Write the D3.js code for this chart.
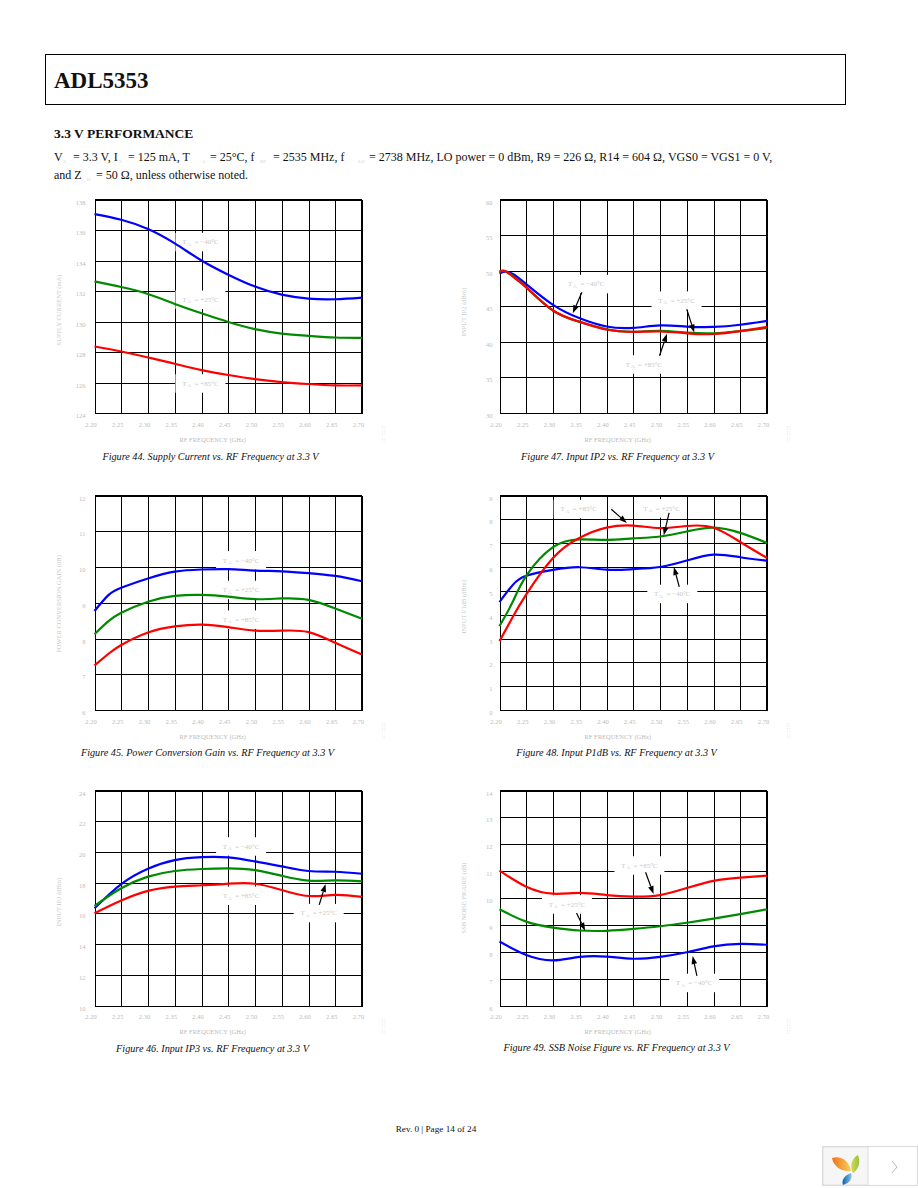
<!DOCTYPE html>
<html><head><meta charset="utf-8">
<script src="https://cdn.jsdelivr.net/npm/d3@7/dist/d3.min.js"></script>
<style>html,body{margin:0;padding:0;background:#fff}svg{display:block}text{font-family:"Liberation Serif",serif}</style>
</head><body><div id="c"></div>
<script>
// Frequency grids (GHz)
const freqs = [2.20,2.25,2.30,2.35,2.40,2.45,2.50,2.55,2.60,2.65,2.70];
const freqsStart = [2.20,2.225,2.25,2.30,2.35,2.40,2.45,2.50,2.55,2.60,2.65,2.70];
const freqsHump = [2.20,2.21,2.225,2.25,2.30,2.35,2.40,2.45,2.50,2.55,2.60,2.65,2.70];
const xTickLabels = ["2.20","2.25","2.30","2.35","2.40","2.45","2.50","2.55","2.60","2.65","2.70"];

// Figure 44 Supply current (mA)
const fig44Blue  = [137.04,136.67,136.06,135.12,134.0,133.07,132.29,131.76,131.5,131.46,131.57];
const fig44Green = [132.63,132.26,131.8,131.15,130.54,129.97,129.5,129.21,129.06,128.95,128.93];
const fig44Red   = [128.36,128.03,127.64,127.23,126.81,126.49,126.22,126.03,125.9,125.81,125.81];
// Figure 47 Input IP2 (dBm)
const fig47Blue  = [49.6,49.86,49.53,48.1,45.2,43.3,42.15,41.96,42.3,42.15,42.1,42.4,42.95];
const fig47Green = [49.86,49.95,49.25,47.66,44.4,42.8,41.75,41.42,41.55,41.3,41.2,41.5,41.95];
const fig47Red   = [49.86,49.95,49.16,47.66,44.4,42.8,41.73,41.4,41.45,41.2,41.1,41.5,42.1];
// Figure 45 Power conversion gain (dB)
const fig45Blue  = [8.77,9.2,9.42,9.68,9.87,9.93,9.94,9.9,9.88,9.83,9.75,9.6];
const fig45Green = [8.12,8.47,8.72,9.03,9.19,9.22,9.17,9.1,9.12,9.08,8.84,8.55];
const fig45Red   = [7.25,7.56,7.82,8.17,8.34,8.39,8.32,8.22,8.22,8.18,7.88,7.55];
// Figure 48 Input P1dB (dBm)
const fig48Blue  = [4.53,5.25,5.63,5.88,5.99,5.89,5.91,6.0,6.27,6.52,6.41,6.26];
const fig48Green = [3.52,4.55,5.63,6.83,7.16,7.14,7.2,7.28,7.49,7.65,7.43,7.01];
const fig48Red   = [2.89,3.91,4.85,6.38,7.23,7.65,7.74,7.63,7.72,7.65,7.05,6.38];
// Figure 46 Input IP3 (dBm)
const fig46Blue  = [16.33,17.91,18.91,19.47,19.66,19.64,19.38,19.06,18.76,18.71,18.58];
const fig46Green = [16.48,17.63,18.39,18.76,18.89,18.93,18.82,18.45,18.13,18.15,18.08];
const fig46Red   = [16.0,16.83,17.46,17.74,17.83,17.93,17.93,17.52,17.13,17.2,17.07];
// Figure 49 SSB noise figure (dB)
const fig49Blue  = [8.38,7.88,7.68,7.81,7.82,7.74,7.81,7.98,8.2,8.29,8.26];
const fig49Green = [9.58,9.12,8.9,8.79,8.78,8.85,8.95,9.08,9.23,9.4,9.58];
const fig49Red   = [11.02,10.42,10.16,10.19,10.11,10.05,10.11,10.37,10.64,10.76,10.83];

// Annotations: [label, labelFreq, labelValue, arrowFromFreq, arrowFromValue, arrowToFreq, arrowToValue]
const fig44Notes = [["−40°C",2.398,135.19],["+25°C",2.398,131.41],["+85°C",2.398,125.92]];
const fig47Notes = [["−40°C",2.362,48.08,2.354,46.96,2.337,44.02],["+25°C",2.531,45.75,2.55,44.58,2.564,41.31],["+85°C",2.470,36.78,2.499,38.04,2.513,41.12]];
const fig45Notes = [["−40°C",2.474,10.18],["+25°C",2.474,9.35],["+85°C",2.474,8.52]];
const fig48Notes = [["+85°C",2.348,8.42,2.409,8.42,2.438,7.85],["+25°C",2.503,8.45,2.517,8.27,2.507,7.33],["−40°C",2.523,4.86,2.536,5.17,2.526,6.0]];
const fig46Notes = [["−40°C",2.474,20.34],["+85°C",2.474,17.13],["+25°C",2.619,16.0,2.620,16.55,2.632,17.91]];
const fig49Notes = [["+85°C",2.4615,11.2,2.473,10.96,2.488,10.15],["+25°C",2.326,9.75,2.344,9.44,2.36,8.78],["−40°C",2.564,6.83,2.569,7.10,2.561,7.84]];

const colors = {blue:"#0000ff",green:"#008a00",red:"#ff0000"};
const charts = [
 {col:0,row:0,yMin:124,yMax:138,step:2,x:freqs,b:fig44Blue,g:fig44Green,r:fig44Red,notes:fig44Notes,yTitle:"SUPPLY CURRENT (mA)",titleY:310,cap:"Figure 44. Supply Current vs. RF Frequency at 3.3 V",capX:210.5,capY:460},
 {col:1,row:0,yMin:30,yMax:60,step:5,x:freqsHump,b:fig47Blue,g:fig47Green,r:fig47Red,notes:fig47Notes,yTitle:"INPUT IP2 (dBm)",titleY:312,cap:"Figure 47. Input IP2 vs. RF Frequency at 3.3 V",capX:617.5,capY:460},
 {col:0,row:1,yMin:6,yMax:12,step:1,x:freqsStart,b:fig45Blue,g:fig45Green,r:fig45Red,notes:fig45Notes,yTitle:"POWER CONVERSION GAIN (dB)",titleY:604,cap:"Figure 45. Power Conversion Gain vs. RF Frequency at 3.3 V",capX:207.5,capY:756},
 {col:1,row:1,yMin:0,yMax:9,step:1,x:freqsStart,b:fig48Blue,g:fig48Green,r:fig48Red,notes:fig48Notes,yTitle:"INPUT P1dB (dBm)",titleY:607,cap:"Figure 48. Input P1dB vs. RF Frequency at 3.3 V",capX:616.5,capY:756},
 {col:0,row:2,yMin:10,yMax:24,step:2,x:freqs,b:fig46Blue,g:fig46Green,r:fig46Red,notes:fig46Notes,yTitle:"INPUT IP3 (dBm)",titleY:902,cap:"Figure 46. Input IP3 vs. RF Frequency at 3.3 V",capX:212.5,capY:1052},
 {col:1,row:2,yMin:6,yMax:14,step:1,x:freqs,b:fig49Blue,g:fig49Green,r:fig49Red,notes:fig49Notes,yTitle:"SSB NOISE FIGURE (dB)",titleY:898,cap:"Figure 49. SSB Noise Figure vs. RF Frequency at 3.3 V",capX:616.5,capY:1051}
];
const colLeft=[94.5,499.5], plotW=267.5, rowTop=[199.5,495.5,790.5], rowH=[213.5,214.5,215];

const svg=d3.select("#c").append("svg").attr("width",918).attr("height",1188);
svg.append("rect").attr("width",918).attr("height",1188).attr("fill","#fff");

// Page header
svg.append("rect").attr("x",45.5).attr("y",54.5).attr("width",800).attr("height",50).attr("fill","none").attr("stroke","#000");
svg.append("text").attr("x",54).attr("y",88).attr("font-size",23).attr("font-weight","bold").attr("fill","#111").text("ADL5353");
svg.append("text").attr("x",54).attr("y",138).attr("font-size",13.5).attr("font-weight","bold").attr("fill","#111").text("3.3 V PERFORMANCE");

// Conditions line: [text, x] for main runs, [sub, x, true] for faint subscripts
function rich(y,segs){
  const t=svg.append("text").attr("y",y).attr("font-size",12).attr("fill","#111").attr("xml:space","preserve");
  segs.forEach(s=>{
    if(s[2]) t.append("tspan").attr("x",s[1]).attr("y",y+2).attr("font-size",5).attr("fill","#d4d4d4").text(s[0]);
    else t.append("tspan").attr("x",s[1]).attr("y",y).text(s[0]);
  });
}
rich(161,[["V",54],["S",63,true],["= 3.3 V, I",73],["S",119,true],["= 125 mA, T",128],["A",202,true],["= 25°C, f",210],["RF",260,true],["= 2535 MHz, f",273],["LO",358,true],["= 2738 MHz, LO power = 0 dBm, R9 = 226 Ω, R14 = 604 Ω, VGS0 = VGS1 = 0 V,",369]]);
rich(179,[["and Z",54],["O",87,true],["= 50 Ω, unless otherwise noted.",96]]);

const ink="#bcbcbc";
charts.forEach(c=>{
  const L=colLeft[c.col],T=rowTop[c.row],H=rowH[c.row];
  const x=d3.scaleLinear().domain([2.2,2.7]).range([L,L+plotW]);
  const y=d3.scaleLinear().domain([c.yMin,c.yMax]).range([T+H,T]);
  const g=svg.append("g");
  const yTicks=d3.range(c.yMin,c.yMax+0.001,c.step);
  const xTicks=xTickLabels.map(Number);
  const gx=g.append("g").attr("transform",`translate(0,${T+H})`)
    .call(d3.axisBottom(x).tickValues(xTicks).tickFormat((d,i)=>xTickLabels[i]).tickSize(-H).tickPadding(9));
  const gy=g.append("g").attr("transform",`translate(${L},0)`)
    .call(d3.axisLeft(y).tickValues(yTicks).tickFormat(d3.format("d")).tickSize(-plotW).tickPadding(c.col?7:9));
  [gx,gy].forEach(a=>{
    a.selectAll("line").attr("stroke","#000").attr("stroke-width",1).attr("shape-rendering","crispEdges");
    a.select(".domain").attr("stroke","#000").attr("stroke-width",1).attr("shape-rendering","crispEdges");
    a.selectAll("text").attr("fill",ink).attr("font-size",6.5).attr("font-family","Liberation Serif");
  });
  gx.selectAll("text").attr("dx",-4);
  gy.selectAll("text").attr("dy","0.7em");
  g.append("line").attr("x1",L).attr("x2",L+plotW).attr("y1",T).attr("y2",T).attr("stroke","#000").attr("stroke-width",1).attr("shape-rendering","crispEdges");
  g.append("line").attr("x1",L+plotW).attr("x2",L+plotW).attr("y1",T).attr("y2",T+H).attr("stroke","#000").attr("stroke-width",2).attr("shape-rendering","crispEdges");
  // label boxes cut the grid
  c.notes.forEach(n=>{
    g.append("rect").attr("x",x(n[1])-25).attr("y",y(n[2])-9.5).attr("width",50).attr("height",18.5).attr("fill","#fff");
  });
  // curves
  const line=d3.line().x(d=>x(d[0])).y(d=>y(d[1])).curve(d3.curveNatural);
  [["b","blue"],["g","green"],["r","red"]].forEach(([k,col])=>{
    g.append("path").attr("d",line(c.x.map((f,i)=>[f,c[k][i]]))).attr("fill","none")
      .attr("stroke",colors[col]).attr("stroke-width",2.2);
  });
  // labels & arrows
  c.notes.forEach(n=>{
    const t=g.append("text").attr("x",x(n[1])).attr("y",y(n[2])+2).attr("text-anchor","middle")
      .attr("font-size",7).attr("fill","#c8c8c8").attr("xml:space","preserve");
    t.append("tspan").text("T");
    t.append("tspan").attr("font-size",5).attr("dy",1.5).text(" A");
    t.append("tspan").attr("dy",-1.5).text("  = "+n[0]);
    if(n.length>3){
      const x1=x(n[3]),y1=y(n[4]),x2=x(n[5]),y2=y(n[6]);
      const a=Math.atan2(y2-y1,x2-x1),len=8,w=2.8;
      const bx=x2-len*Math.cos(a),by=y2-len*Math.sin(a);
      g.append("line").attr("x1",x1).attr("y1",y1).attr("x2",bx).attr("y2",by).attr("stroke","#000").attr("stroke-width",1.2);
      g.append("path").attr("fill","#000").attr("d",d3.line()([[x2,y2],[bx-w*Math.sin(a),by+w*Math.cos(a)],[bx+w*Math.sin(a),by-w*Math.cos(a)]])+"Z");
    }
  });
  // axis titles
  g.append("text").attr("x",L+plotW/2-15.5).attr("y",T+H+28.5).attr("text-anchor","middle").attr("font-size",6.5).attr("fill",ink).text("RF FREQUENCY (GHz)");
  g.append("text").attr("transform",`translate(${L-33.5},${c.titleY}) rotate(-90)`).attr("text-anchor","middle").attr("font-size",6.5).attr("fill","#c8c8c8").text(c.yTitle);
  g.append("text").attr("transform",`translate(${L+plotW+23},${T+H+29}) rotate(-90)`).attr("font-size",6).attr("fill","#dcdcdc").text(":::  ::::::");
  // caption
  svg.append("text").attr("x",c.capX).attr("y",c.capY).attr("text-anchor","middle").attr("font-size",10.2).attr("font-style","italic").attr("fill","#111").text(c.cap);
});

svg.append("text").attr("x",436).attr("y",1132).attr("text-anchor","middle").attr("font-size",9.2).attr("fill","#111").text("Rev. 0 | Page 14 of 24");

// Corner badge
const badge=svg.append("g");
badge.append("rect").attr("x",822.5).attr("y",1146.5).attr("width",95).attr("height",39).attr("fill","#fff").attr("stroke","#ddd").attr("stroke-width",1.2);
badge.append("rect").attr("x",823).attr("y",1147).attr("width",45).attr("height",38).attr("fill","#f6f6f6").attr("stroke","#ddd");
badge.append("path").attr("d","M892 1161 L897 1167 L892 1173").attr("fill","none").attr("stroke","#bbb").attr("stroke-width",1);
const defs=svg.append("defs");
[["lo","#f0701a","#f8d060"],["lg","#d0dc50","#9cc040"],["lb","#0a60b0","#8cc4e8"]].forEach(([id,a,b])=>{
  const g=defs.append("linearGradient").attr("id",id);g.append("stop").attr("offset",0).attr("stop-color",a);g.append("stop").attr("offset",1).attr("stop-color",b);
});
badge.append("path").attr("d","M832 1158 C840 1155 849 1160 851 1171 C843 1172 834 1168 832 1158Z").attr("fill","url(#lo)");
badge.append("path").attr("d","M858 1155 C861 1163 858 1170 853 1173 C849 1166 852 1158 858 1155Z").attr("fill","url(#lg)");
badge.append("path").attr("d","M851 1173 C853 1178 850 1183 843 1185 C841 1180 845 1175 851 1173Z").attr("fill","url(#lb)");
</script></body></html>
